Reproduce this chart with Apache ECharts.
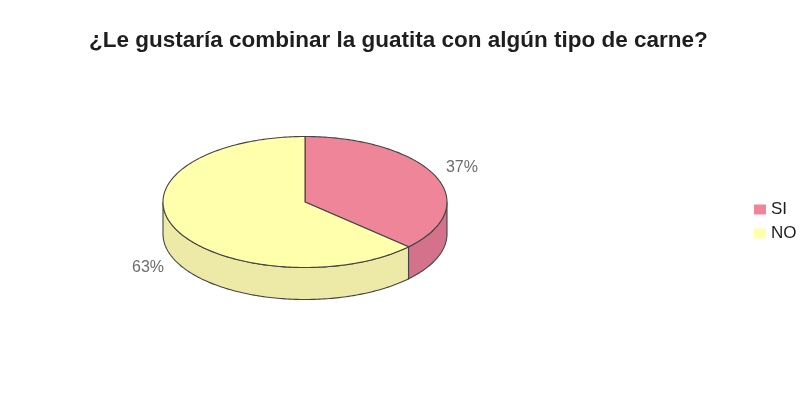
<!DOCTYPE html>
<html>
<head>
<meta charset="utf-8">
<script src="https://cdn.jsdelivr.net/npm/echarts@6/dist/echarts.min.js"></script>
<style>
  html, body { margin: 0; padding: 0; background: #ffffff; }
  #chart { width: 806px; height: 397px; }
</style>
</head>
<body>
<div id="chart"></div>
<script>
// Survey answers and their shares (percent)
const categories = ['SI', 'NO'];
const shares = [37, 63];

// Face colours for each answer: top face and darker rim
const palette = {
  top: ['#EE8598', '#FFFFAC'],
  side: ['#D3728A', '#EDEAA8'],
  edge: '#444444',
  label: '#6c6c6c'
};

// Tilted-disc geometry of the pie
const disc = { cx: 305, cy: 202, rx: 142, ry: 65.5, depth: 32 };

const total = shares.reduce((a, b) => a + b, 0);

function rimPoint(theta, drop) {
  return [disc.cx + disc.rx * Math.sin(theta), disc.cy - disc.ry * Math.cos(theta) + (drop || 0)];
}

function arcPoints(a, b, drop) {
  const pts = [];
  const steps = Math.max(2, Math.ceil((b - a) / (Math.PI / 180)));
  for (let k = 0; k <= steps; k++) {
    pts.push(rimPoint(a + (b - a) * k / steps, drop));
  }
  return pts;
}

function sliceRenderer(index) {
  return function (params, api) {
    const before = shares.slice(0, index).reduce((a, b) => a + b, 0);
    const value = api.value(0);
    const start = before / total * Math.PI * 2;
    const end = (before + value) / total * Math.PI * 2;
    const children = [];

    // Front rim visible between 90° and 270° (clockwise from 12 o'clock)
    const a = Math.max(start, Math.PI / 2);
    const b = Math.min(end, Math.PI * 1.5);
    if (a < b) {
      const upper = arcPoints(a, b, 0);
      const lower = arcPoints(a, b, disc.depth).reverse();
      children.push({
        type: 'polygon',
        shape: { points: upper.concat(lower) },
        style: { fill: palette.side[index], stroke: palette.edge, lineWidth: 1.1 }
      });
    }

    // Top face
    children.push({
      type: 'polygon',
      shape: { points: [[disc.cx, disc.cy]].concat(arcPoints(start, end, 0)) },
      style: { fill: palette.top[index], stroke: palette.edge, lineWidth: 1.1 }
    });

    // Percentage label outside the slice
    const mid = (start + end) / 2;
    const lx = disc.cx + (disc.rx + 29) * Math.sin(mid);
    const ly = disc.cy - (disc.ry + 20) * Math.cos(mid) + (Math.cos(mid) < 0 ? disc.depth : 0);
    children.push({
      type: 'text',
      style: {
        x: lx, y: ly,
        text: Math.round(value / total * 100) + '%',
        fill: palette.label,
        font: '16px "Liberation Sans", Arial, sans-serif',
        align: 'center',
        verticalAlign: 'middle'
      }
    });

    return { type: 'group', children: children };
  };
}

const chart = echarts.init(document.getElementById('chart'), null, { renderer: 'canvas' });

chart.setOption({
  animation: false,
  backgroundColor: '#ffffff',
  title: {
    text: '¿Le gustaría combinar la guatita con algún tipo de carne?',
    left: 84,
    top: 24,
    textStyle: {
      fontFamily: '"Liberation Sans", Arial, sans-serif',
      fontWeight: 'bold',
      fontSize: 22.5,
      color: '#1e1e1e'
    }
  },
  legend: {
    data: categories,
    orient: 'vertical',
    left: 749,
    top: 196,
    icon: 'rect',
    itemWidth: 12,
    itemHeight: 10,
    itemGap: 7,
    textStyle: {
      fontFamily: '"Liberation Sans", Arial, sans-serif',
      fontSize: 17,
      color: '#1e1e1e',
      padding: [0, 0, 0, 0]
    }
  },
  series: categories.map((name, i) => ({
    type: 'custom',
    name: name,
    coordinateSystem: 'none',
    itemStyle: { color: palette.top[i] },
    renderItem: sliceRenderer(i),
    data: [[shares[i]]]
  }))
});
</script>
</body>
</html>
